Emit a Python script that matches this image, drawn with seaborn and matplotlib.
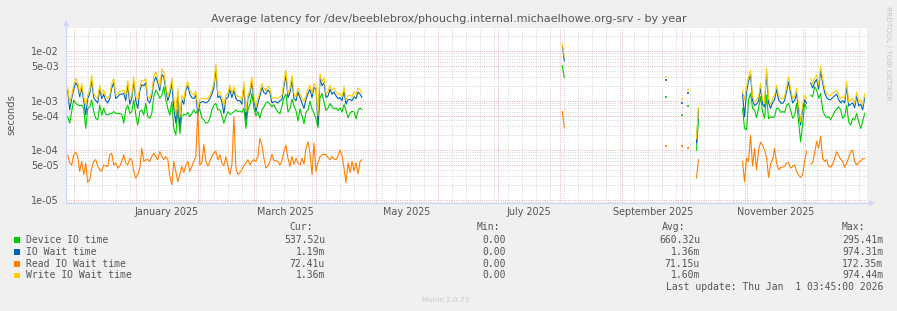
import numpy as np
import pandas as pd
import matplotlib
matplotlib.use("Agg")
import matplotlib.pyplot as plt
import matplotlib.dates as mdates
import matplotlib.ticker as mticker
from matplotlib.patches import Rectangle
import seaborn as sns

# ---------------------------------------------------------------- text / meta
TITLE = "Average latency for /dev/beeblebrox/phouchg.internal.michaelhowe.org-srv - by year"
Y_LABEL = "seconds"
SERIES = ["Device IO time", "IO Wait time", "Read IO Wait time", "Write IO Wait time"]
COLORS = ["#00CC00", "#0066B3", "#FF8000", "#FFCC00"]
CUR = ["537.52u", "1.19m", "72.41u", "1.36m"]
MIN = ["0.00", "0.00", "0.00", "0.00"]
AVG = ["660.32u", "1.36m", "71.15u", "1.60m"]
MAX = ["295.41m", "974.31m", "172.35m", "974.44m"]
LAST_UPDATE = "Last update: Thu Jan  1 03:45:00 2026"
VERSION = "Munin 2.0.73"
SIDE_TEXT = "RRDTOOL / TOBI OETIKER"

X_START = "2024-11-27 03:45"
X_END = "2026-01-01 03:45"
X_LABEL_MONTHS = ["2025-01-01", "2025-03-01", "2025-05-01", "2025-07-01", "2025-09-01", "2025-11-01"]
X_LABELS = ["January 2025", "March 2025", "May 2025", "July 2025", "September 2025", "November 2025"]
Y_TICKS = [1e-5, 5e-5, 1e-4, 5e-4, 1e-3, 5e-3, 1e-2]
Y_TICK_LABELS = ["1e-05", "5e-05", "1e-04", "5e-04", "1e-03", "5e-03", "1e-02"]

# ---------------------------------------------------------------- values (microseconds)
BLOCK1_START = "2024-11-28"
write_b1 = [1900, 900, 1290, 2060, 2810, 2410, 1400, 2230, 1200, 800,
            1290, 1640, 3280, 1400, 1200, 1110, 2060, 1290, 1640, 1200,
            1110, 1290, 2230, 2810, 1290, 1400, 1560, 1560, 1640, 1290,
            2600, 1110, 1290, 3030, 1200, 1030, 1900, 2600, 2480, 2810,
            1200, 1110, 1510, 3030, 3820, 2810, 1900, 4470, 3820, 2000,
            1200, 1640, 2810, 1200, 500, 1770, 450, 1290, 1030, 1900,
            2410, 1640, 1400, 1290, 1560, 700, 1080, 1110, 1110, 1080,
            1110, 1290, 1640, 2230, 5400, 1400, 1510, 1150, 800, 1290,
            1400, 2060, 1400, 1900, 1330, 1200, 1200, 1030, 2410, 600,
            1290, 1640, 3030, 1200, 750, 1110, 1510, 2230, 1770, 1600,
            2000, 1770, 1110, 1150, 1150, 1110, 1200, 1290, 2410, 4130,
            1400, 1770, 3280, 1360, 1200, 1810, 1400, 1110, 980, 1290,
            1710, 2060, 1400, 2230, 2000, 500, 3540, 2410, 2900, 1400,
            1510, 2060, 1640, 1810, 1510, 1330, 1400, 1200, 1900, 1030,
            1290, 1290, 1200, 1470, 1330, 1810, 1640, 1400]
iowait_b1 = [1600, 650, 1100, 1700, 2300, 2000, 1200, 1800, 1000, 520,
             1100, 1400, 2500, 1150, 1000, 900, 1700, 1100, 1350, 1000,
             900, 1100, 1800, 2300, 1100, 1200, 1350, 1350, 1400, 1000,
             2100, 850, 1100, 2400, 1000, 700, 1600, 2100, 2000, 2300,
             1000, 900, 1250, 2400, 3000, 2300, 1600, 3400, 3000, 1700,
             1000, 1350, 2300, 700, 350, 1400, 300, 1050, 850, 1600,
             2000, 1350, 1150, 1100, 1300, 500, 900, 950, 950, 900,
             950, 1100, 1350, 1850, 4200, 1150, 1250, 950, 550, 1100,
             1150, 1700, 1150, 1600, 1100, 1000, 1000, 850, 2000, 400,
             1100, 1350, 2400, 1000, 600, 900, 1250, 1850, 1450, 1350,
             1650, 1450, 900, 950, 950, 900, 1000, 1050, 2000, 3200,
             1150, 1450, 2600, 1100, 1000, 1500, 1150, 900, 700, 1050,
             1400, 1700, 1150, 1850, 1700, 330, 2800, 2000, 2300, 1150,
             1250, 1700, 1350, 1500, 1250, 1100, 1150, 1000, 1550, 850,
             1050, 1050, 1000, 1200, 1100, 1500, 1350, 1150]
device_b1 = [475, 350, 600, 1030, 880, 830, 790, 810, 700, 275,
             700, 750, 1030, 600, 440, 410, 810, 510, 700, 530,
             510, 550, 550, 600, 550, 550, 550, 530, 350, 650,
             810, 550, 600, 1030, 510, 320, 600, 650, 510, 880,
             475, 440, 550, 1200, 1640, 1400, 1110, 1290, 1900, 1030,
             700, 510, 950, 275, 200, 650, 215, 495, 530, 510,
             580, 475, 550, 650, 550, 650, 650, 440, 410, 350,
             360, 440, 650, 810, 880, 650, 650, 495, 350, 475,
             600, 530, 550, 600, 650, 600, 620, 580, 700, 275,
             650, 830, 1400, 700, 495, 600, 440, 650, 750, 900,
             950, 850, 750, 820, 680, 590, 540, 790, 1150, 1350,
             590, 680, 1080, 790, 630, 390, 680, 500, 340, 590,
             650, 970, 680, 560, 430, 285, 1160, 1400, 930, 630,
             710, 880, 750, 680, 710, 630, 710, 590, 830, 630,
             450, 560, 610, 590, 430, 630, 710, 650]
read_b1 = [80, 55, 50, 80, 90, 74, 37, 59, 32, 55,
           22, 25, 43, 59, 64, 47, 40, 37, 50, 47,
           47, 80, 86, 50, 55, 43, 47, 59, 80, 55,
           50, 68, 64, 37, 27, 32, 43, 109, 59, 64,
           64, 59, 74, 86, 74, 64, 93, 74, 64, 74,
           64, 30, 20, 59, 37, 23, 32, 47, 35, 50,
           59, 37, 47, 59, 74, 650, 50, 55, 130, 59,
           47, 59, 74, 86, 95, 64, 80, 55, 48, 74,
           47, 32, 50, 470, 43, 32, 35, 40, 48, 55,
           64, 50, 59, 64, 59, 74, 175, 124, 68, 43,
           48, 59, 82, 61, 61, 59, 50, 61, 93, 126,
           68, 47, 74, 52, 68, 55, 50, 68, 52, 109,
           148, 86, 32, 136, 37, 57, 74, 80, 82, 80,
           70, 64, 74, 66, 64, 77, 100, 77, 43, 22,
           55, 35, 59, 38, 55, 33, 59, 64]

SPIKE1_DATES = ["2025-08-02", "2025-08-03"]
write_s1 = [14100, 7600]
iowait_s1 = [13000, 6300]
device_s1 = [5100, 2900]
read_s1 = [610, 280]

DOT_DATES = ["2025-09-23", "2025-10-01", "2025-10-04"]
write_dots = [3000, 1100, 1660]
iowait_dots = [2600, 880, 1460]
device_dots = [1200, 520, 790]
read_dots = [120, 120, 110]

SPIKE2_DATES = ["2025-10-08", "2025-10-09"]
write_s2 = [170, 740]
iowait_s2 = [140, 670]
device_s2 = [99, 430]
read_s2 = [27, 64]

BLOCK2_START = "2025-10-31"
nan = float("nan")
write_b2 = [1640, 1030, 1900, 3030, 4130, 1200, 950, 1030, 1200, 2230,
            1030, 880, 4600, 1110, 830, 1110, 1290, 2060, 1290, 1110,
            1080, 1200, 1900, 3030, 1770, 1110, 1200, 1770, 810, 375,
            810, 1290, 1080, nan, 2810, 2230, 2810, 3280, 2060, 5000,
            2810, 1770, 1400, 1290, 1290, 1400, 1510, 1640, 1290, 1110,
            1200, 1110, 2410, 950, 1030, 1110, 880, 1510, 950, 1030,
            810, 1400]
iowait_b2 = [1350, 470, 1500, 2500, 3300, 1000, 800, 850, 1000, 1800,
             850, 750, 3600, 900, 700, 900, 1050, 1700, 1050, 900,
             880, 1000, 1550, 2400, 1450, 900, 1000, 1400, 650, 320,
             650, 1050, 880, nan, 2300, 1800, 2300, 2700, 1700, 4100,
             2300, 1450, 1150, 1050, 1050, 1150, 1250, 1350, 1050, 900,
             1000, 900, 1900, 780, 850, 900, 720, 1250, 780, 850,
             650, 1150]
device_b2 = [700, 275, 255, 1030, 1400, 700, 650, 455, 700, 1200,
             600, 440, 1290, 430, 475, 455, 475, 700, 700, 580,
             600, 580, 810, 880, 650, 440, 495, 880, 375, 148,
             320, 880, 700, nan, 1290, 1200, 1900, 1640, 1110, 1400,
             650, 510, 455, 475, 410, 495, 600, 680, 750, 650,
             440, 475, 810, 375, 320, 440, 410, 550, 375, 275,
             375, 550]
read_b2 = [59, 23, 68, 59, 200, 47, 108, 40, 100, 145,
           125, 100, 70, 28, 52, 64, 109, 55, 40, 45,
           45, 47, 55, 55, 43, 47, 50, 37, 31, 28,
           32, 59, 96, nan, 52, 55, 86, 150, 109, 190,
           68, 59, 64, 47, 45, 52, 68, 93, 77, 66,
           59, 45, 55, 70, 93, 100, 59, 50, 55, 61,
           66, 68]

US = 1e-6  # microseconds -> seconds


def build_lines():
    rows = []
    blocks = [
        ("b1", pd.date_range(BLOCK1_START, periods=len(write_b1), freq="D"),
         [device_b1, iowait_b1, read_b1, write_b1]),
        ("s1", pd.to_datetime(SPIKE1_DATES), [device_s1, iowait_s1, read_s1, write_s1]),
        ("s2", pd.to_datetime(SPIKE2_DATES), [device_s2, iowait_s2, read_s2, write_s2]),
        ("b2", pd.date_range(BLOCK2_START, periods=len(write_b2), freq="D"),
         [device_b2, iowait_b2, read_b2, write_b2]),
    ]
    for tag, times, vals_list in blocks:
        for name, vals in zip(SERIES, vals_list):
            v = np.asarray(vals, dtype=float) * US
            seg = np.cumsum(np.isnan(v))
            for t, val, s in zip(times, v, seg):
                if not np.isnan(val):
                    rows.append((t, val, name, f"{tag}-{s}"))
    return pd.DataFrame(rows, columns=["time", "value", "series", "segment"])


def build_dots():
    rows = []
    times = pd.to_datetime(DOT_DATES)
    for name, vals in zip(SERIES, [device_dots, iowait_dots, read_dots, write_dots]):
        for t, val in zip(times, vals):
            rows.append((t, val * US, name))
    return pd.DataFrame(rows, columns=["time", "value", "series"])


lines = build_lines()
dots = build_dots()

# ---------------------------------------------------------------- figure
sns.set_theme(style="white")
plt.rcParams["font.family"] = ["DejaVu Sans"]

W, H = 897, 311
TXT = "#555555"
AXIS_C = "#cfd6f8"
MGRID = "#e8b0b0"
GRID = "#d4d4d4"

fig = plt.figure(figsize=(W / 100, H / 100), dpi=100, facecolor="#F0F0F0")
ax = fig.add_axes([66 / W, 1 - 203 / H, 801 / W, 175 / H])
ax.set_facecolor("white")

for name, color in zip(SERIES, COLORS):
    sub = lines[lines.series == name]
    sns.lineplot(data=sub, x="time", y="value", units="segment", estimator=None,
                 color=color, linewidth=0.8, ax=ax, legend=False)
    d = dots[dots.series == name]
    ax.plot(d["time"], d["value"], linestyle="none", marker="_", ms=1.7, mew=1.2,
            color=color)

ax.set_yscale("log")
ax.set_ylim(8.5e-6, 2.95e-2)
ax.set_xlim(pd.Timestamp(X_START), pd.Timestamp(X_END))
ax.set_xlabel("")
ax.set_ylabel("")

ax.yaxis.set_major_locator(mticker.FixedLocator(Y_TICKS))
ax.yaxis.set_major_formatter(mticker.FixedFormatter(Y_TICK_LABELS))
ax.yaxis.set_minor_locator(mticker.LogLocator(base=10, subs=[2, 3, 4, 6, 7, 8, 9]))
ax.yaxis.set_minor_formatter(mticker.NullFormatter())

ax.xaxis.set_major_locator(mdates.MonthLocator())
ax.xaxis.set_major_formatter(mticker.NullFormatter())
ax.xaxis.set_minor_locator(mdates.WeekdayLocator(byweekday=mdates.SU))
ax.xaxis.set_minor_formatter(mticker.NullFormatter())

ax.set_axisbelow(True)
ax.grid(which="minor", color=GRID, linestyle=(0, (1, 1.4)), linewidth=0.7)
ax.grid(which="major", color=MGRID, linestyle=(0, (1, 1.4)), linewidth=0.7)

ax.tick_params(axis="both", which="major", direction="out", length=2.5, width=0.7,
               color=MGRID, labelsize=6.9, labelcolor=TXT, pad=2.5)
ax.tick_params(axis="both", which="minor", direction="out", length=1.6, width=0.6,
               color=GRID)
ax.tick_params(axis="x", which="major", labelbottom=False)

for sp in ["top", "right"]:
    ax.spines[sp].set_visible(False)
for sp in ["left", "bottom"]:
    ax.spines[sp].set_color(AXIS_C)
    ax.spines[sp].set_linewidth(0.9)

# axis arrows
ax.plot([0, 0], [1.0, 1.025], transform=ax.transAxes, color=AXIS_C, lw=0.9, clip_on=False)
ax.plot([0], [1.03], transform=ax.transAxes, marker="^", ms=4.2, color=AXIS_C,
        clip_on=False, mew=0)
ax.plot([1.0, 1.003], [0, 0], transform=ax.transAxes, color=AXIS_C, lw=0.9, clip_on=False)
ax.plot([1.006], [0], transform=ax.transAxes, marker=">", ms=4.2, color=AXIS_C,
        clip_on=False, mew=0)

# month labels centered in the middle of their month
for m, lab in zip(X_LABEL_MONTHS, X_LABELS):
    pos = pd.Timestamp(m) + pd.Timedelta(days=15.5)
    ax.text(pos, -0.052, lab, transform=ax.get_xaxis_transform(), ha="center",
            va="center", fontsize=6.9, color=TXT)


def fx(px):
    return px / W


def fy(py):
    return 1 - py / H


fig.text(0.5, fy(19), TITLE, ha="center", va="center", fontsize=8.0, color=TXT)
fig.text(fx(11), fy(115), Y_LABEL, rotation=90, ha="center", va="center",
         fontsize=7.2, color=TXT)
fig.text(fx(887.5), fy(53), SIDE_TEXT, rotation=270, ha="center", va="center",
         fontsize=5.3, color="#c4c4c4")

MONO = dict(family="DejaVu Sans Mono", fontsize=7.0, color=TXT, va="center")
fig.text(fx(313), fy(227.5), "Cur:", ha="right", **MONO)
fig.text(fx(500), fy(227.5), "Min:", ha="right", **MONO)
fig.text(fx(685), fy(227.5), "Avg:", ha="right", **MONO)
fig.text(fx(865), fy(227.5), "Max:", ha="right", **MONO)

row_y = [240, 252, 264, 275.5]
for i, (name, color) in enumerate(zip(SERIES, COLORS)):
    y = row_y[i]
    fig.patches.append(Rectangle((fx(14), fy(y + 2.8)), 5.6 / W, 5.6 / H,
                                 transform=fig.transFigure, facecolor=color,
                                 edgecolor="none"))
    fig.text(fx(26), fy(y), name, ha="left", **MONO)
    fig.text(fx(325), fy(y), CUR[i], ha="right", **MONO)
    fig.text(fx(506), fy(y), MIN[i], ha="right", **MONO)
    fig.text(fx(700), fy(y), AVG[i], ha="right", **MONO)
    fig.text(fx(883), fy(y), MAX[i], ha="right", **MONO)

fig.text(fx(883), fy(287), LAST_UPDATE, ha="right", **MONO)
fig.text(fx(445.5), fy(299.5), VERSION, ha="center", va="center", fontsize=5.2,
         color="#c8c8c8")

fig.savefig("out.png", dpi=100, facecolor=fig.get_facecolor())
